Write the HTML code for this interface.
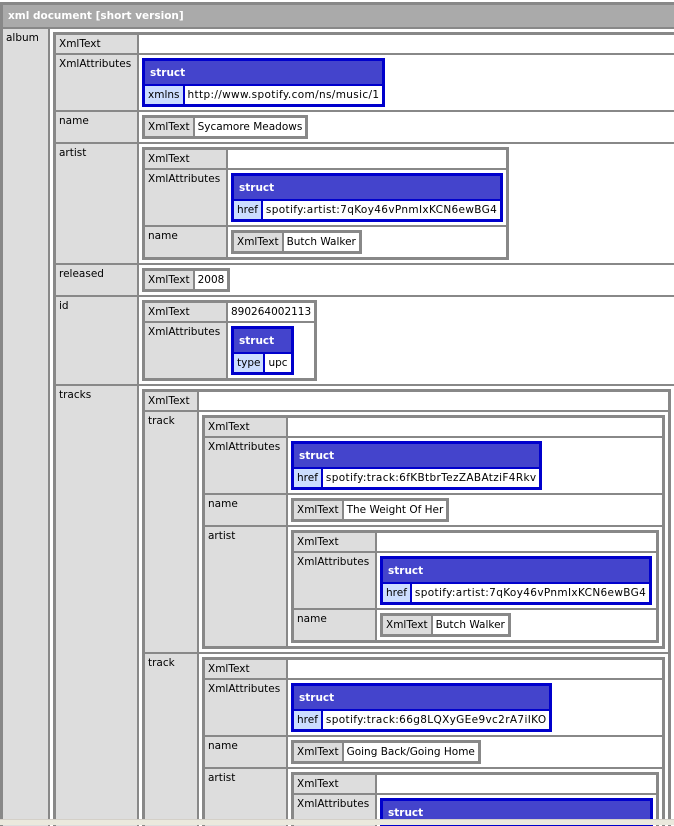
<!DOCTYPE html>
<html><head><meta charset="utf-8"><style>
html,body{margin:0;padding:0;background:#fff;overflow:hidden;width:674px;height:824px}
body{padding-top:2px;position:relative}
table{border-collapse:separate;border-spacing:2px;font-family:"DejaVu Sans","Liberation Sans",sans-serif;font-size:10.5px;line-height:12px}
table.x{background:#888;border:1px solid #888}
table.s{background:#0000cc;border:1px solid #0000cc}
td,th{vertical-align:top;padding:3px;background:#fff;white-space:nowrap;text-align:left}
td.k{background:#ddd}
td.c{padding:3px}
td.v{letter-spacing:0.35px}
th.h{background:#aaa;color:#fff;font-weight:bold;padding:5px}
th.sh{background:#4444cc;color:#fff;font-weight:bold;padding:6px 5px 5px}
td.sk{background:#ccddff}
.bar{position:absolute;left:0;top:819px;width:674px;height:5px;background:#ebe9dd;border-top:1px solid #d4d0c8}
</style></head><body>
<table class="x" style="width:700px">
<tr><th class="h" colspan="2">xml document [short version]</th></tr>
<tr><td class="k" style="width:39px">album</td><td class="c">
<table class="x" style="width:100%">
<tr><td class="k" style="width:75px">XmlText</td><td></td></tr>
<tr><td class="k">XmlAttributes</td><td class="c">
 <table class="s"><tr><th class="sh" colspan="2">struct</th></tr><tr><td class="sk">xmlns</td><td class="v">http://www.spotify.com/ns/music/1</td></tr></table>
</td></tr>
<tr><td class="k">name</td><td class="c"><table class="x"><tr><td class="k">XmlText</td><td>Sycamore Meadows</td></tr></table></td></tr>
<tr><td class="k">artist</td><td class="c">
 <table class="x">
 <tr><td class="k" style="width:75px">XmlText</td><td></td></tr>
 <tr><td class="k">XmlAttributes</td><td class="c"><table class="s"><tr><th class="sh" colspan="2">struct</th></tr><tr><td class="sk">href</td><td class="v">spotify:artist:7qKoy46vPnmIxKCN6ewBG4</td></tr></table></td></tr>
 <tr><td class="k">name</td><td class="c"><table class="x"><tr><td class="k">XmlText</td><td>Butch Walker</td></tr></table></td></tr>
 </table>
</td></tr>
<tr><td class="k">released</td><td class="c"><table class="x"><tr><td class="k">XmlText</td><td>2008</td></tr></table></td></tr>
<tr><td class="k">id</td><td class="c">
 <table class="x">
 <tr><td class="k" style="width:75px">XmlText</td><td>890264002113</td></tr>
 <tr><td class="k">XmlAttributes</td><td class="c"><table class="s"><tr><th class="sh" colspan="2">struct</th></tr><tr><td class="sk">type</td><td>upc</td></tr></table></td></tr>
 </table>
</td></tr>
<tr><td class="k">tracks</td><td class="c">
 <table class="x" style="width:529px">
 <tr><td class="k" style="width:46px">XmlText</td><td></td></tr>
 <tr><td class="k">track</td><td class="c">
  <table class="x" style="width:100%">
  <tr><td class="k" style="width:75px">XmlText</td><td></td></tr>
  <tr><td class="k">XmlAttributes</td><td class="c"><table class="s"><tr><th class="sh" colspan="2">struct</th></tr><tr><td class="sk">href</td><td class="v">spotify:track:6fKBtbrTezZABAtziF4Rkv</td></tr></table></td></tr>
  <tr><td class="k">name</td><td class="c"><table class="x"><tr><td class="k">XmlText</td><td>The Weight Of Her</td></tr></table></td></tr>
  <tr><td class="k">artist</td><td class="c">
   <table class="x" style="width:100%">
   <tr><td class="k" style="width:75px">XmlText</td><td></td></tr>
   <tr><td class="k">XmlAttributes</td><td class="c"><table class="s"><tr><th class="sh" colspan="2">struct</th></tr><tr><td class="sk">href</td><td class="v">spotify:artist:7qKoy46vPnmIxKCN6ewBG4</td></tr></table></td></tr>
   <tr><td class="k">name</td><td class="c"><table class="x"><tr><td class="k">XmlText</td><td>Butch Walker</td></tr></table></td></tr>
   </table>
  </td></tr>
  </table>
 </td></tr>
 <tr><td class="k">track</td><td class="c">
  <table class="x" style="width:100%">
  <tr><td class="k" style="width:75px">XmlText</td><td></td></tr>
  <tr><td class="k">XmlAttributes</td><td class="c"><table class="s"><tr><th class="sh" colspan="2">struct</th></tr><tr><td class="sk">href</td><td class="v">spotify:track:66g8LQXyGEe9vc2rA7iIKO</td></tr></table></td></tr>
  <tr><td class="k">name</td><td class="c"><table class="x"><tr><td class="k">XmlText</td><td>Going Back/Going Home</td></tr></table></td></tr>
  <tr><td class="k">artist</td><td class="c">
   <table class="x" style="width:100%">
   <tr><td class="k" style="width:75px">XmlText</td><td></td></tr>
   <tr><td class="k">XmlAttributes</td><td class="c"><table class="s" style="width:100%"><tr><th class="sh" colspan="2">struct</th></tr><tr><td class="sk">href</td><td class="v">spotify:artist:7qKoy46vPnmIxKCN6ewBG4</td></tr></table></td></tr>
   <tr><td class="k">name</td><td class="c"><table class="x"><tr><td class="k">XmlText</td><td>Butch Walker</td></tr></table></td></tr>
   </table>
  </td></tr>
  </table>
 </td></tr>
 </table>
</td></tr>
</table>
</td></tr>
</table>
<div class="bar"></div>
</body></html>
